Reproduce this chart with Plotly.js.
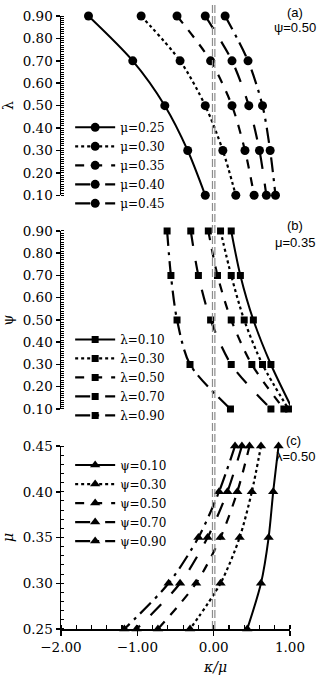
<!DOCTYPE html>
<html>
<head>
<meta charset="utf-8">
<script src="https://cdn.plot.ly/plotly-3.0.1.min.js"></script>
<style>
  html, body { margin: 0; padding: 0; background: #fff; }
  #graph { width: 320px; height: 679px; }
</style>
</head>
<body>
<div id="graph"></div>
<script>
// panel (a) : psi = 0.50, kappa/mu vs lambda for each mu
var lambdaVals = [0.90, 0.70, 0.50, 0.30, 0.10];
var muNames = ['μ=0.25', 'μ=0.30', 'μ=0.35', 'μ=0.40', 'μ=0.45'];
var mu025 = [-1.64, -1.06, -0.64, -0.34, -0.11];
var mu030 = [-0.95, -0.44, -0.11, 0.12, 0.29];
var mu035 = [-0.48, -0.04, 0.24, 0.41, 0.53];
var mu040 = [-0.11, 0.24, 0.46, 0.60, 0.69];
var mu045 = [0.15, 0.45, 0.64, 0.74, 0.81];

// panel (b) : mu = 0.35, kappa/mu vs psi for each lambda
var psiVals = [0.90, 0.70, 0.50, 0.30, 0.10];
var lambdaNames = ['λ=0.10', 'λ=0.30', 'λ=0.50', 'λ=0.70', 'λ=0.90'];
var lam010 = [0.23, 0.35, 0.52, 0.75, 1.03];
var lam030 = [0.09, 0.23, 0.40, 0.64, 0.98];
var lam050 = [-0.07, 0.05, 0.23, 0.50, 0.92];
var lam070 = [-0.30, -0.20, -0.04, 0.23, 0.75];
var lam090 = [-0.61, -0.56, -0.48, -0.31, 0.22];

// panel (c) : lambda = 0.50, kappa/mu vs mu for each psi
var muVals = [0.45, 0.40, 0.35, 0.30, 0.25];
var psiNames = ['ψ=0.10', 'ψ=0.30', 'ψ=0.50', 'ψ=0.70', 'ψ=0.90'];
var psi010 = [0.85, 0.78, 0.72, 0.62, 0.44];
var psi030 = [0.62, 0.50, 0.34, 0.09, -0.31];
var psi050 = [0.47, 0.31, 0.09, -0.23, -0.73];
var psi070 = [0.37, 0.18, -0.08, -0.44, -1.01];
var psi090 = [0.28, 0.07, -0.20, -0.59, -1.17];

var dashes = ['solid', 'dot', 'dash', 'longdash', 'longdashdot'];
var serif = 'DejaVu Serif';

function makeTraces(xs, yVals, names, symbol, size, yaxis, legend) {
  return xs.map(function (x, i) {
    return {
      x: x,
      y: yVals,
      name: names[i],
      type: 'scatter',
      mode: 'lines+markers',
      xaxis: 'x',
      yaxis: yaxis,
      legend: legend,
      cliponaxis: false,
      line: { color: '#000', width: i == 0 ? 2 : 2.2, dash: dashes[i], shape: 'spline', smoothing: 0.8 },
      marker: { symbol: symbol, size: size, color: '#000' }
    };
  });
}

var data = []
  .concat(makeTraces([mu025, mu030, mu035, mu040, mu045], lambdaVals, muNames, 'circle', 9, 'y', 'legend'))
  .concat(makeTraces([lam010, lam030, lam050, lam070, lam090], psiVals, lambdaNames, 'square', 7, 'y2', 'legend2'))
  .concat(makeTraces([psi010, psi030, psi050, psi070, psi090], muVals, psiNames, 'triangle-up', 9, 'y3', 'legend3'));

function yAxis(domain, range, dtick, minor, title) {
  return {
    domain: domain,
    range: range,
    anchor: 'x',
    dtick: dtick,
    tick0: range[0],
    tickformat: '.2f',
    showgrid: false,
    zeroline: false,
    showline: true,
    linecolor: '#000',
    linewidth: 1.5,
    ticks: 'outside',
    ticklen: 4,
    tickwidth: 1.5,
    tickcolor: '#000',
    tickfont: { family: serif, size: 13.5, color: '#000' },
    minor: { dtick: minor, tick0: range[0], ticks: 'inside', ticklen: 3, tickwidth: 1, tickcolor: '#000', showgrid: false },
    title: { text: title, font: { family: serif, size: 14, color: '#000' }, standoff: 6 }
  };
}

function legendBox(y) {
  return {
    x: 0.04, xanchor: 'left', y: y, yanchor: 'top',
    bgcolor: 'rgba(0,0,0,0)',
    font: { family: serif, size: 12, color: '#000' },
    itemwidth: 40,
    tracegroupgap: 0
  };
}

var sans = { family: 'Liberation Sans', size: 13, color: '#000' };
function note(text, x, y) {
  return { text: text, xref: 'paper', yref: 'paper', x: x, y: y, xanchor: 'center', yanchor: 'middle', showarrow: false, font: sans };
}

// double grey dashed line at kappa/mu = 0
function zeroLine(offset) {
  return {
    type: 'line', xref: 'x', xsizemode: 'pixel', xanchor: 0, x0: offset, x1: offset,
    yref: 'paper', y0: 0, y1: 1.02,
    line: { color: '#8c8c8c', width: 1.2, dash: '8px,3px' }
  };
}

var layout = {
  width: 320,
  height: 679,
  margin: { l: 61, r: 30, t: 16, b: 50 },
  paper_bgcolor: '#fff',
  plot_bgcolor: '#fff',
  xaxis: {
    range: [-2, 1],
    anchor: 'y3',
    dtick: 1,
    tickformat: '.2f',
    showgrid: false,
    zeroline: false,
    showline: true,
    linecolor: '#000',
    linewidth: 1.5,
    ticks: 'outside',
    ticklen: 5,
    tickwidth: 1.5,
    tickcolor: '#000',
    tickfont: { family: serif, size: 13.5, color: '#000' },
    minor: { dtick: 0.2, ticks: 'inside', ticklen: 4, tickwidth: 1.2, tickcolor: '#000', showgrid: false }
  },
  yaxis: yAxis([0.7075, 1], [0.1, 0.9], 0.1, 0.01, 'λ'),
  yaxis2: yAxis([0.3589, 0.6493], [0.1, 0.9], 0.1, 0.01, 'ψ'),
  yaxis3: yAxis([0, 0.2985], [0.25, 0.45], 0.05, 0.01, '<i>μ</i>'),
  showlegend: true,
  legend: legendBox(0.842),
  legend2: legendBox(0.496),
  legend3: legendBox(0.291),
  shapes: [zeroLine(-1.2), zeroLine(1.2)],
  annotations: [
    note('(a)', 1.022, 1.006),
    note('ψ=0.50', 1.02, 0.981),
    note('(b)', 1.022, 0.6586),
    note('μ=0.35', 1.02, 0.6297),
    note('(c)', 1.015, 0.3078),
    note('λ=0.50', 1.022, 0.2806),
    { text: '<i>κ/μ</i>', xref: 'paper', yref: 'paper', x: 0.672, y: -0.062, xanchor: 'center', yanchor: 'middle',
      showarrow: false, font: { family: serif, size: 14, color: '#000' } }
  ]
};

Plotly.newPlot('graph', data, layout, { displayModeBar: false, staticPlot: true });
</script>
</body>
</html>
